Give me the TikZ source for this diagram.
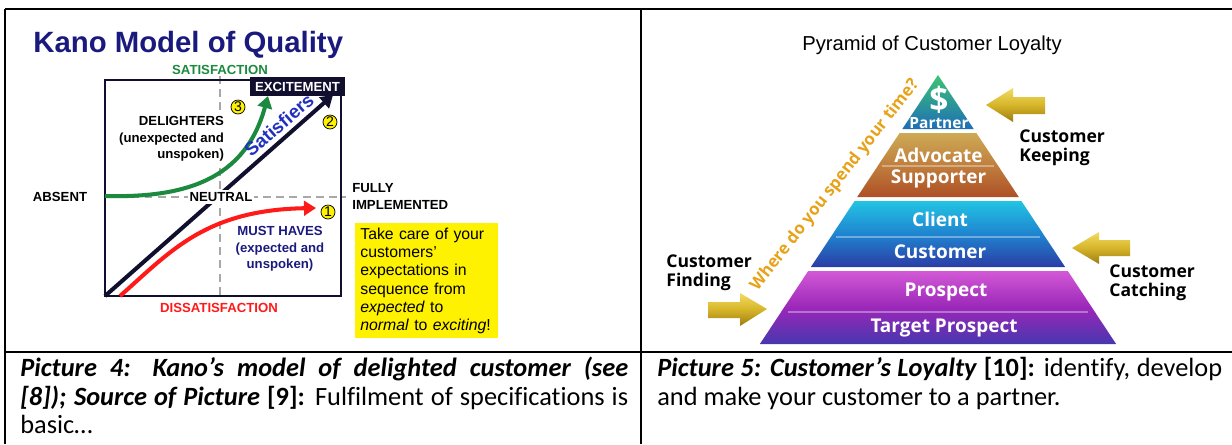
\documentclass[tikz,border=0pt]{standalone}
\usepackage{fontspec}
\setmainfont{Liberation Sans}
\newfontfamily\capfont[Ligatures=NoCommon]{Carlito}
\newfontfamily\pyrfont{Open Sans}
\usepackage{tikz}
\usetikzlibrary{positioning, arrows, arrows.meta}

\definecolor{kanonavy}{HTML}{1A1A7E}
\definecolor{kanogreen}{HTML}{1B8A3E}
\definecolor{kanored}{HTML}{FF1A1A}
\definecolor{kanoline}{HTML}{10102E}
\definecolor{satblue}{HTML}{2230C0}
\definecolor{dashgray}{HTML}{A8A8A8}
\definecolor{parttop}{HTML}{3CC473}
\definecolor{partbot}{HTML}{1E6DB8}
\definecolor{brtop}{HTML}{CDAA55}
\definecolor{brmid}{HTML}{C07F3E}
\definecolor{brbot}{HTML}{AE4F26}
\definecolor{cltop}{HTML}{22C4E4}
\definecolor{clmid}{HTML}{1F84CF}
\definecolor{clbot}{HTML}{2B3CA6}
\definecolor{prtop}{HTML}{D359D6}
\definecolor{prmid}{HTML}{9B27B9}
\definecolor{prbot}{HTML}{4637AE}
\definecolor{whereorange}{HTML}{E8A21A}
\definecolor{goldtop}{HTML}{F2DC62}
\definecolor{goldmid}{HTML}{D6B52A}
\definecolor{goldbot}{HTML}{9E7C10}

\tikzset{
  lbl/.style={font=\bfseries\fontsize{7.5}{9.4}\selectfont, inner sep=0pt},
  num/.style={circle, draw=black, fill=yellow, inner sep=0pt, minimum size=2.8mm,
    font=\fontsize{8}{8}\selectfont},
  kanocurve/.style={line width=2.3pt, -{Triangle[length=2.4mm,width=2.9mm]}},
  pyr/.style={font=\pyrfont\bfseries\fontsize{10.8}{12}\selectfont, text=white, inner sep=0pt},
  side/.style={font=\pyrfont\bfseries\fontsize{10}{10.8}\selectfont, align=left,
    inner sep=0pt, anchor=west},
  goldarrow/.style={top color=goldtop, bottom color=goldbot, middle color=goldmid},
  captext/.style={font={\capfont\fontsize{15}{16.2}\selectfont\hyphenpenalty10000 },
    inner sep=0pt, anchor=north west, align=justify}
}

\begin{document}
\begin{tikzpicture}[x=0.02cm, y=-0.02cm]
\useasboundingbox (0,0) rectangle (1232,444);

% table rules
\draw[line width=1.1pt] (5,9) -- (1232,9);
\draw[line width=1.1pt] (5,9) -- (5,444);
\draw[line width=1.1pt] (641,9) -- (641,444);
\draw[line width=0.8pt] (5,352) -- (1232,352);

% Kano model
\node[font=\bfseries\fontsize{16.7}{20}\selectfont, text=kanonavy, anchor=west, inner sep=0pt]
  (title) at (33,45) {Kano Model of Quality};

\draw[dashgray, line width=1.1pt, dash pattern=on 4.5pt off 3pt] (220,76) -- (220,296);
\draw[dashgray, line width=1.1pt, dash pattern=on 4.5pt off 3pt] (105,197) -- (346,197);
\draw[kanoline, line width=1.2pt] (105,80) rectangle (341,296);

\node[lbl, text=kanogreen] (sat) at (220,70) {SATISFACTION};
\node[lbl, text=kanored] (dis) at (219,308) {DISSATISFACTION};
\node[lbl] (abs) at (60,197) {ABSENT};
\node[lbl, align=left, anchor=west] (full) at (352,196.5) {FULLY\\IMPLEMENTED};
\node[lbl, align=right, anchor=east, fill=white, inner sep=1pt] (del) at (226,139)
  {DELIGHTERS\\(unexpected and\\unspoken)};
\node[lbl, align=center, text=kanonavy] (must) at (280,249)
  {MUST HAVES\\(expected and\\unspoken)};

\coordinate (o)  at (105,296);
\coordinate (k1) at (333,95);
\coordinate (g0) at (105,196);
\coordinate (g1) at (268,96);
\coordinate (r0) at (120,296);
\coordinate (r1) at (316,208);

\draw[kanocurve, kanoline] (o) -- (k1);
\draw[kanocurve, kanogreen] (g0) .. controls (185,198) and (245,180) .. (g1);
\draw[kanocurve, kanored] (r0) .. controls (170,252) and (205,210) .. (r1);

\node[lbl, fill=white, inner xsep=1pt, inner ysep=1.5pt] (neu) at (221,197) {NEUTRAL};
\node[lbl, fill=kanoline, text=white, minimum width=1.9cm, minimum height=0.38cm]
  (exc) at (297.5,86.5) {EXCITEMENT};
\node[font=\bfseries\fontsize{10.7}{12}\selectfont, text=satblue, rotate=41, inner sep=0pt]
  (satis) at (279,125) {Satisfiers};

\node[num] (n3) at (238,107) {3};
\node[num] (n2) at (330,122) {2};
\node[num] (n1) at (328,212) {1};

\node[fill=yellow, anchor=north west, text width=2.66cm, minimum height=2.3cm,
  inner xsep=0.1cm, inner ysep=0.05cm, align=left, font=\fontsize{9}{10.4}\selectfont]
  (note) at (355,223)
  {Take care of your\\customers’\\expectations in\\sequence from\\\textit{expected} to\\\textit{normal} to \textit{exciting}!};

% pyramid of loyalty
\node[font=\fontsize{11.5}{13}\selectfont, inner sep=0pt] (ptitle) at (932,45) {Pyramid of Customer Loyalty};

\shade[top color=parttop, bottom color=partbot] (938,75) -- (973.7,129) -- (902.3,129) -- cycle;
\shade[top color=brtop, bottom color=brbot, middle color=brmid]
  (899.6,133) -- (976.4,133) -- (1018.8,197) -- (857.2,197) -- cycle;
\shade[top color=cltop, bottom color=clbot, middle color=clmid]
  (854.6,201) -- (1021.4,201) -- (1065.1,267) -- (810.9,267) -- cycle;
\shade[top color=prtop, bottom color=prbot, middle color=prmid]
  (808.2,271) -- (1067.8,271) -- (1116.1,344) -- (759.9,344) -- cycle;

\draw[white, opacity=0.35, line width=0.6pt] (882,166) -- (994,166);
\draw[white, opacity=0.35, line width=0.6pt] (836,237) -- (1040,237);
\draw[white, opacity=0.35, line width=0.6pt] (788,312) -- (1088,312);

\node[pyr, font=\pyrfont\bfseries\fontsize{19}{19}\selectfont] (dollar) at (939,100) {\$};
\node[pyr, font=\pyrfont\bfseries\fontsize{8.8}{10}\selectfont] (partner) at (939,123) {Partner};
\node[pyr] (advocate)  at (938.5,155) {Advocate};
\node[pyr] (supporter) at (938.5,179) {Supporter};
\node[pyr] (client)    at (940,219) {Client};
\node[pyr] (customer)  at (940,252) {Customer};
\node[pyr] (prospect)  at (946,292) {Prospect};
\node[pyr] (target)    at (944,328) {Target Prospect};

\node[font=\pyrfont\bfseries\fontsize{9.5}{10}\selectfont, text=whereorange, rotate=52, inner sep=0pt]
  (where) at (835,185) {Where do you spend your time?};

\shade[goldarrow] (986,105) -- (1013,88) -- (1013,97) -- (1045,97) -- (1045,114) -- (1013,114) -- (1013,122) -- cycle;
\shade[goldarrow] (1072,248) -- (1099,232) -- (1099,240) -- (1130,240) -- (1130,256) -- (1099,256) -- (1099,264) -- cycle;
\shade[goldarrow] (767,309) -- (740,293) -- (740,302) -- (708,302) -- (708,318) -- (740,318) -- (740,326) -- cycle;

\node[side] (keep)  at (1019,147.5) {Customer\\Keeping};
\node[side] (catch) at (1109,282.5) {Customer\\Catching};
\node[side] (find)  at (666,273) {Customer\\Finding};

% captions
\node[captext, text width=12.16cm] (cap4) at (20,357)
  {\textbf{\textit{Picture 4: Kano’s model of delighted customer (see\linebreak{} [8]); Source of Picture}} \textbf{[9]:} Fulfilment of specifications is basic…};
\node[captext, text width=11.3cm] (cap5) at (657,357)
  {\textbf{\textit{Picture 5: Customer’s Loyalty}} \textbf{[10]:} identify, develop and make your customer to a partner.};
\end{tikzpicture}
\end{document}
